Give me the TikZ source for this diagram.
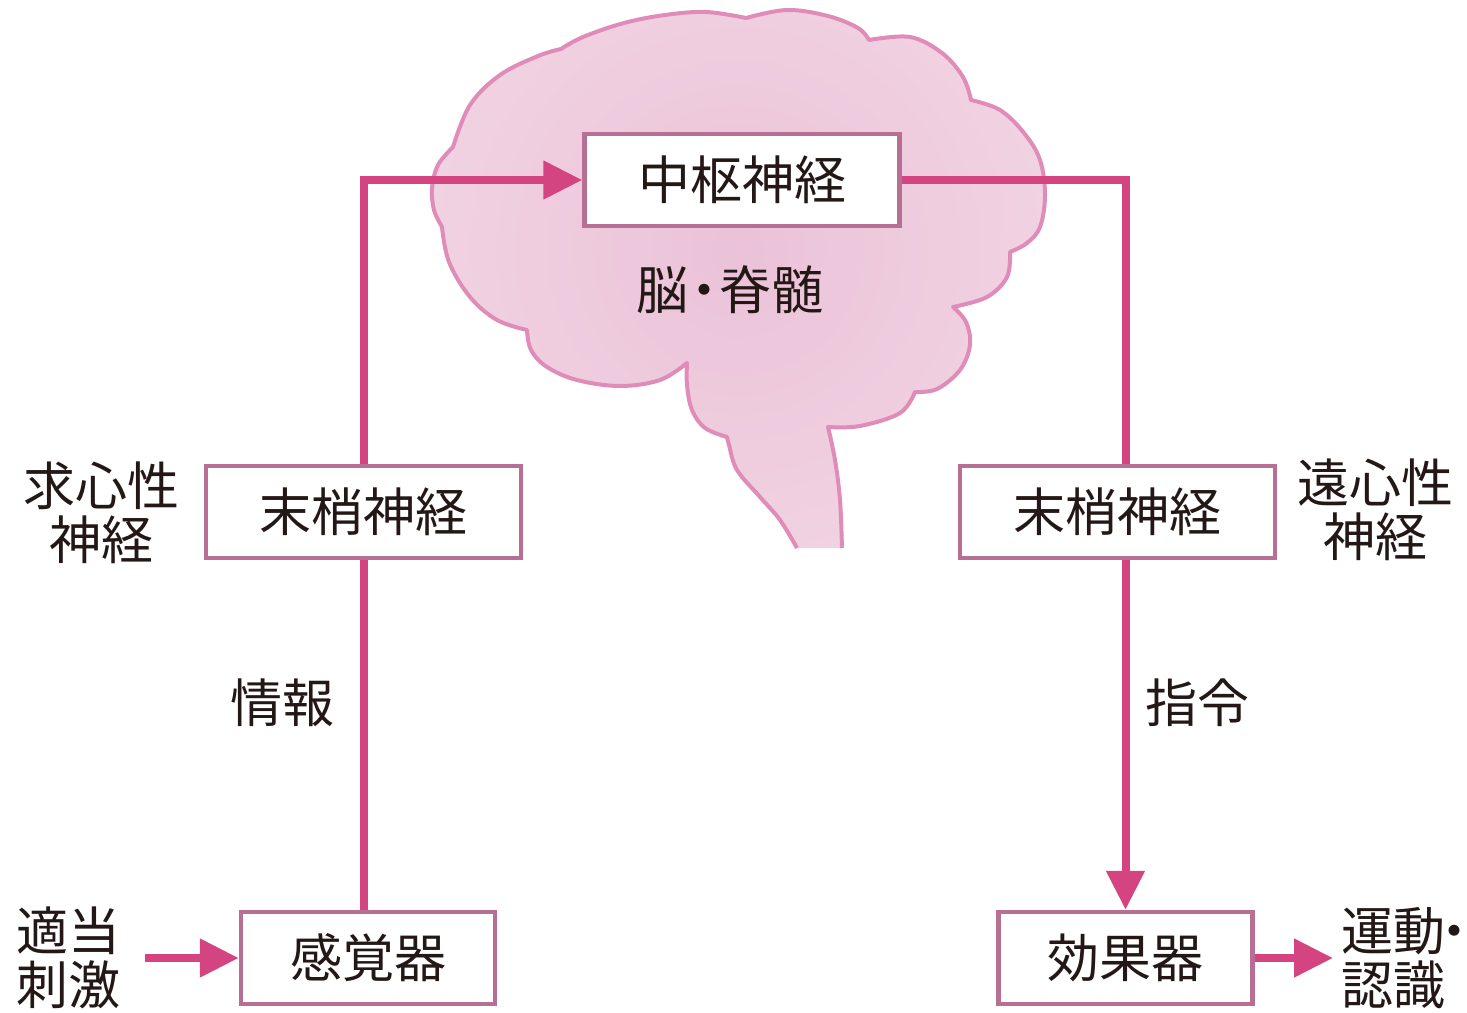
\documentclass[tikz,border=0pt]{standalone}
\usepackage{fontspec}
\setmainfont{Noto Sans CJK JP}
\usetikzlibrary{arrows.meta,positioning}
\definecolor{nervepink}{RGB}{212,68,128}
\definecolor{boxrim}{RGB}{183,112,148}
\definecolor{brainrim}{RGB}{224,140,184}
\definecolor{braincore}{RGB}{235,194,216}
\definecolor{brainedge}{RGB}{246,225,235}
\definecolor{inkblack}{RGB}{35,24,21}
\newcommand{\nsfont}{\fontsize{26pt}{27pt}\selectfont}
\newcommand{\midpt}{\kern-.2em・\kern-.2em}
% outline of the brain, lobe by lobe (open at the foot of the stem)
\newcommand{\brainpath}{
 plot[smooth,tension=.6] coordinates{(797,548) (780,520) (760,497) (737,470) (729,445) (727,437)}
 -- plot[smooth,tension=.6] coordinates{(727,437) (705,428) (692,410) (687,385) (687,363)}
 -- plot[smooth,tension=.6] coordinates{(687,363) (660,380) (620,386) (577,380) (547,367) (531,350) (527,330)}
 -- plot[smooth,tension=.6] coordinates{(527,330) (497,320) (470,297) (449,262) (442,227)}
 -- plot[smooth,tension=.6] coordinates{(442,227) (434,210) (432,188) (438,165) (453,147)}
 -- plot[smooth,tension=.6] coordinates{(453,147) (470,105) (500,75) (538,56) (561,49)}
 -- plot[smooth,tension=.6] coordinates{(561,49) (583,37) (624,23) (665,15) (706,12) (746,18)}
 -- plot[smooth,tension=.6] coordinates{(746,18) (787,10) (828,16) (858,28) (869,40)}
 -- plot[smooth,tension=.6] coordinates{(869,40) (910,37) (942,53) (963,77) (971,100)}
 -- plot[smooth,tension=.6] coordinates{(971,100) (1000,110) (1024,133) (1040,160) (1045,195) (1040,227) (1027,243) (1010,252)}
 -- plot[smooth,tension=.6] coordinates{(1010,252) (1007,277) (987,297) (953,307)}
 -- plot[smooth,tension=.6] coordinates{(953,307) (966,322) (970,345) (960,370) (937,389) (915,392)}
 -- plot[smooth,tension=.6] coordinates{(915,392) (900,413) (860,426) (828,427)}
 -- plot[smooth,tension=.6] coordinates{(828,427) (835,460) (840,500) (842,548)}
}
\tikzset{
 ns box/.style={draw=boxrim,line width=2.2pt,fill=white,minimum width=157.5pt,
                minimum height=46pt,inner sep=0pt,font=\nsfont,text=inkblack},
 ns organ/.style={ns box,minimum width=127pt},
 ns label/.style={font=\nsfont,text=inkblack,inner sep=0pt},
 ns nerve/.style={draw=nervepink,line width=4pt},
 ns signal/.style={ns nerve,-{Triangle[length=19.5pt,width=18.5pt]}},
 brain rim/.style={draw=brainrim,line width=2pt,line join=round}
}
\begin{document}
\begin{tikzpicture}[x=0.5pt,y=-0.5pt]
 \useasboundingbox (0,0) rectangle (1467,1012);
 % brain and spinal cord
 \begin{scope}
  \clip \brainpath -- cycle;
  \shade[inner color=braincore,outer color=brainedge] (738,250) circle[radius=300pt];
 \end{scope}
 \draw[brain rim] \brainpath;
 % boxes
 \node[ns box] (cns) at (742,180) {中枢神経};
 \node[ns label] (brainlbl) at (730,290) {脳\midpt 脊髄};
 \node[ns box] (lperiph) at (363.5,512) {末梢神経};
 \node[ns box] (rperiph) at (1117.5,512) {末梢神経};
 \node[ns organ] (sensor) at (368,958) {感覚器};
 \node[ns organ] (effector) at (1125.5,958) {効果器};
 % side labels
 \node[ns label,align=center] (afferent) at (102,513) {求心性\\神経};
 \node[ns label,align=center] (efferent) at (1375,510) {遠心性\\神経};
 \node[ns label] (info) at (282,703) {情報};
 \node[ns label] (command) at (1197,703) {指令};
 \node[ns label,align=left,outer sep=12pt] (stimulus) at (69,958) {適当\\刺激};
 \node[ns label,align=left,outer sep=4pt,anchor=west] (response) at (1333,958)
   {運動\kern-.32em・\kern-.45em\\認識};
 % nerve pathways
 \draw[ns nerve] (sensor.north -| lperiph.south) -- (lperiph.south);
 \draw[ns signal] (lperiph.north) |- (cns.west);
 \draw[ns nerve] (cns.east) -| (rperiph.north -| effector.north);
 \draw[ns signal] (effector.north |- rperiph.south) -- (effector.north);
 \draw[ns signal] (stimulus.east |- sensor.west) -- (sensor.west);
 \draw[ns signal] (effector.east) -- (response.west |- effector.east);
\end{tikzpicture}
\end{document}
